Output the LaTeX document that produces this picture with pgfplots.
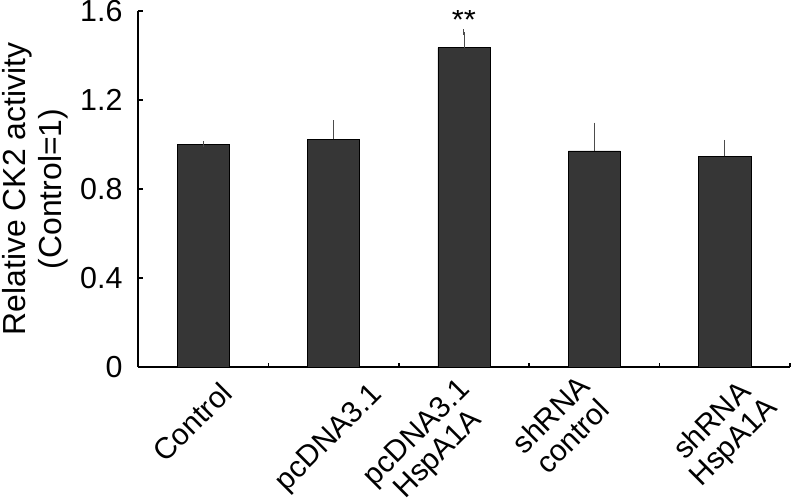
\documentclass[border=0pt]{standalone}
\usepackage{pgfplots}
\pgfplotsset{compat=1.18}
\usepackage{fontspec}
\setmainfont{Liberation Sans}
\definecolor{barfill}{HTML}{363636}
% rotated tick label: #1 horizontal shift, #2 upward shift, #3 text
\newcommand{\rl}[3]{\hspace*{\dimexpr2\dimexpr#1\relax\relax}%
  \raisebox{0pt}[\dimexpr\height-#2\relax]{\rotatebox{45}{\begin{tabular}{@{}c@{}}#3\end{tabular}}}}
\begin{document}
\begin{tikzpicture}
\begin{axis}[
  scale only axis, width=652bp, height=356bp,
  ybar, bar width=0.4,
  xmin=-0.5, xmax=4.5, ymin=0, ymax=1.6,
  axis x line=bottom, axis y line=left,
  axis line style={-, line width=1.5bp},
  ytick={0,0.4,0.8,1.2,1.6}, yticklabels={0,0.4,0.8,1.2,1.6},
  xtick={0,...,4},
  xticklabels={\rl{-8bp}{1bp}{Control},\rl{-3bp}{0bp}{pcDNA3.1},\rl{-35bp}{5bp}{pcDNA3.1\\HspA1A},
    \rl{-30bp}{8bp}{shRNA\\control},\rl{0bp}{8bp}{shRNA\\HspA1A}},
  minor xtick={0.5,1.5,2.5,3.5,4.5},
  major x tick style={draw=none},
  tick align=inside, major tick length=5bp, minor tick length=4bp,
  tick style={line width=1.5bp, black},
  tick label style={font=\fontsize{30}{30}\selectfont},
  yticklabel style={font=\fontsize{30.5}{31}\selectfont, xshift=-12bp},
  xticklabel style={anchor=north, inner sep=0pt, yshift=-14bp},
  ylabel={Relative CK2 activity\\(Control=1)},
  ylabel style={align=center, font=\fontsize{32}{36}\selectfont},
  ylabel shift=5bp,
]
\addplot[fill=barfill, draw=black, line width=0.5bp,
  error bars/.cd, y dir=plus, y explicit,
  error bar style={line width=1bp, color=black!70},
  error mark options={line width=1bp, mark size=3bp, color=black!70}]
coordinates {
(0,1.000) +- (0,0.002)
(1,1.023) +- (0,0.072)
(2,1.435) +- (0,0.069)
(3,0.971) +- (0,0.114)
(4,0.947) +- (0,0.060)};
\node[font=\fontsize{31}{31}\selectfont, anchor=base, yshift=2bp] at (axis cs:2,1.504) {**};
\end{axis}
\pgfresetboundingbox
\useasboundingbox ([xshift=-138bp,yshift=-131bp]current axis.south west)
  rectangle ([xshift=2bp,yshift=11bp]current axis.north east);
\end{tikzpicture}
\end{document}
